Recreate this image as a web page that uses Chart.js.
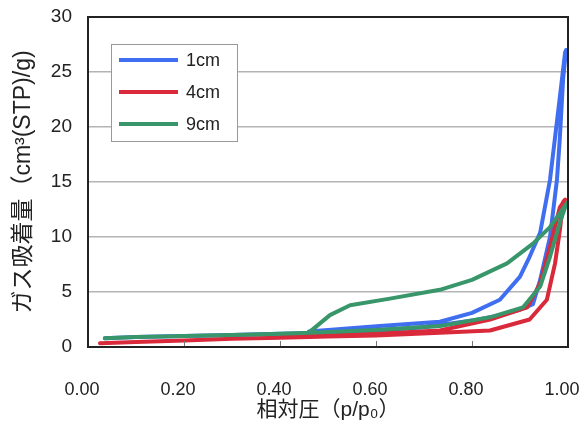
<!DOCTYPE html>
<html>
<head>
<meta charset="utf-8">
<script src="https://cdn.jsdelivr.net/npm/chart.js@4/dist/chart.umd.min.js"></script>
<style>
  html, body { margin: 0; padding: 0; background: #fff; }
  #wrap { width: 586px; height: 428px; position: relative; }
</style>
</head>
<body>
<div id="wrap"><canvas id="c" width="586" height="428"></canvas></div>
<script>
// Nitrogen adsorption isotherms (adsorption branch, then desorption branch back down)
const seriesLabels = ['1cm', '4cm', '9cm'];
const seriesColors = ['#3f6ef0', '#d9293a', '#38966a'];

// 1cm
const p1cm = [0.035, 0.10, 0.20, 0.30, 0.40, 0.50, 0.60, 0.70, 0.80, 0.86, 0.90, 0.927, 0.942, 0.9625, 0.977, 0.983, 0.99, 0.996,
              0.994, 0.983, 0.9625, 0.942, 0.92, 0.90, 0.858, 0.80, 0.733, 0.608, 0.50, 0.46];
const v1cm = [0.8, 0.9, 1.0, 1.1, 1.2, 1.3, 1.5, 1.8, 2.4, 2.9, 3.4, 3.9, 6.1, 10.0, 15.2, 19.0, 24.5, 27.0,
              26.8, 22.7, 15.2, 10.4, 8.2, 6.4, 4.3, 3.1, 2.3, 1.9, 1.55, 1.4];

// 4cm
const p4cm = [0.025, 0.10, 0.20, 0.30, 0.40, 0.50, 0.60, 0.733, 0.8375, 0.92, 0.956, 0.973, 0.983, 0.99, 0.994,
              0.983, 0.9625, 0.942, 0.915, 0.8375, 0.733, 0.60, 0.50, 0.40];
const v4cm = [0.35, 0.45, 0.6, 0.75, 0.85, 0.95, 1.05, 1.3, 1.5, 2.5, 4.3, 7.6, 10.6, 13.2, 13.4,
              12.7, 9.1, 5.8, 3.6, 2.5, 1.5, 1.2, 1.05, 0.9];

// 9cm
const p9cm = [0.035, 0.10, 0.20, 0.30, 0.40, 0.4625, 0.60, 0.733, 0.8375, 0.906, 0.942, 0.9625, 0.983, 0.994, 1.0,
              0.998, 0.99, 0.9625, 0.927, 0.873, 0.80, 0.733, 0.629, 0.546, 0.504, 0.4625];
const v9cm = [0.8, 0.9, 1.0, 1.1, 1.2, 1.3, 1.55, 1.9, 2.7, 3.6, 5.5, 8.2, 11.3, 12.7, 13.0,
              13.1, 12.6, 10.9, 9.4, 7.6, 6.1, 5.2, 4.4, 3.8, 2.9, 1.4];

const xTicks = [0, 0.2, 0.4, 0.6, 0.8, 1.0];

const seriesX = [p1cm, p4cm, p9cm];
const seriesY = [v1cm, v4cm, v9cm];
const drawOrder = [2, 1, 0];

const FONT = '"Liberation Sans", Arial, "Noto Sans CJK JP", sans-serif';
const TEXT = '#222';

const datasets = seriesLabels.map((label, i) => ({
  label,
  data: seriesX[i].map((x, k) => ({ x, y: seriesY[i][k] })),
  borderColor: seriesColors[i],
  backgroundColor: seriesColors[i],
  borderWidth: 4,
  pointRadius: 0,
  showLine: true,
  tension: 0,
  order: drawOrder[i],
  borderJoinStyle: 'round',
  borderCapStyle: 'round'
}));

// plot frame, inner x tick marks and the boxed legend inside the plot
const framePlugin = {
  id: 'frame',
  afterDatasetsDraw(chart) {
    const { ctx, chartArea: a, scales } = chart;
    ctx.save();
    ctx.strokeStyle = '#777';
    ctx.lineWidth = 1;
    xTicks.forEach(t => {
      const x = Math.round(scales.x.getPixelForValue(t)) + 0.5;
      ctx.beginPath();
      ctx.moveTo(x, a.bottom);
      ctx.lineTo(x, a.bottom - 6);
      ctx.stroke();
    });
    ctx.strokeStyle = '#222';
    ctx.lineWidth = 2;
    ctx.strokeRect(a.left, a.top, a.right - a.left, a.bottom - a.top);

    // legend
    const bx = 111, by = 44, bw = 126, bh = 97;
    ctx.fillStyle = '#fff';
    ctx.fillRect(bx, by, bw, bh);
    ctx.strokeStyle = '#999';
    ctx.lineWidth = 1;
    ctx.strokeRect(bx + 0.5, by + 0.5, bw, bh);
    ctx.font = '18px ' + FONT;
    ctx.textBaseline = 'middle';
    ctx.textAlign = 'left';
    seriesLabels.forEach((label, i) => {
      const y = 60 + i * 32;
      ctx.strokeStyle = seriesColors[i];
      ctx.lineWidth = 4;
      ctx.beginPath();
      ctx.moveTo(119, y);
      ctx.lineTo(178, y);
      ctx.stroke();
      ctx.fillStyle = TEXT;
      ctx.fillText(label, 186, y + 1);
    });
    ctx.restore();
  }
};

new Chart(document.getElementById('c'), {
  type: 'scatter',
  data: { datasets },
  options: {
    responsive: false,
    animation: false,
    layout: { padding: { left: 0, top: 17, right: 18, bottom: 0 } },
    plugins: {
      legend: { display: false },
      tooltip: { enabled: false }
    },
    scales: {
      x: {
        type: 'linear',
        min: 0,
        max: 1,
        afterBuildTicks(scale) { scale.ticks = xTicks.map(v => ({ value: v })); },
        afterFit(scale) {
          scale.height = 81;
          scale.paddingLeft = 0;
          scale.paddingRight = 0;
        },
        grid: { display: false, drawTicks: false },
        border: { display: false },
        ticks: {
          color: TEXT,
          font: { family: FONT, size: 18 },
          padding: 32,
          labelOffset: -6,
          maxRotation: 0,
          callback: v => Number(v).toFixed(2)
        },
        title: {
          display: true,
          text: '相対圧（p/p₀）',
          color: TEXT,
          font: { family: FONT, size: 21 },
          padding: { top: 0, bottom: 5 }
        }
      },
      y: {
        min: 0,
        max: 30,
        afterFit(scale) {
          scale.width = 88;
          scale.paddingTop = 0;
          scale.paddingBottom = 0;
        },
        grid: { color: '#b4b4b4', lineWidth: 1.5, drawTicks: false },
        border: { display: false },
        ticks: {
          stepSize: 5,
          color: TEXT,
          font: { family: FONT, size: 19 },
          padding: 16
        },
        title: {
          display: true,
          text: 'ガス吸着量（cm³(STP)/g)',
          color: TEXT,
          font: { family: FONT, size: 23 },
          padding: { top: 10, bottom: 0 }
        }
      }
    }
  },
  plugins: [framePlugin]
});
</script>
</body>
</html>
